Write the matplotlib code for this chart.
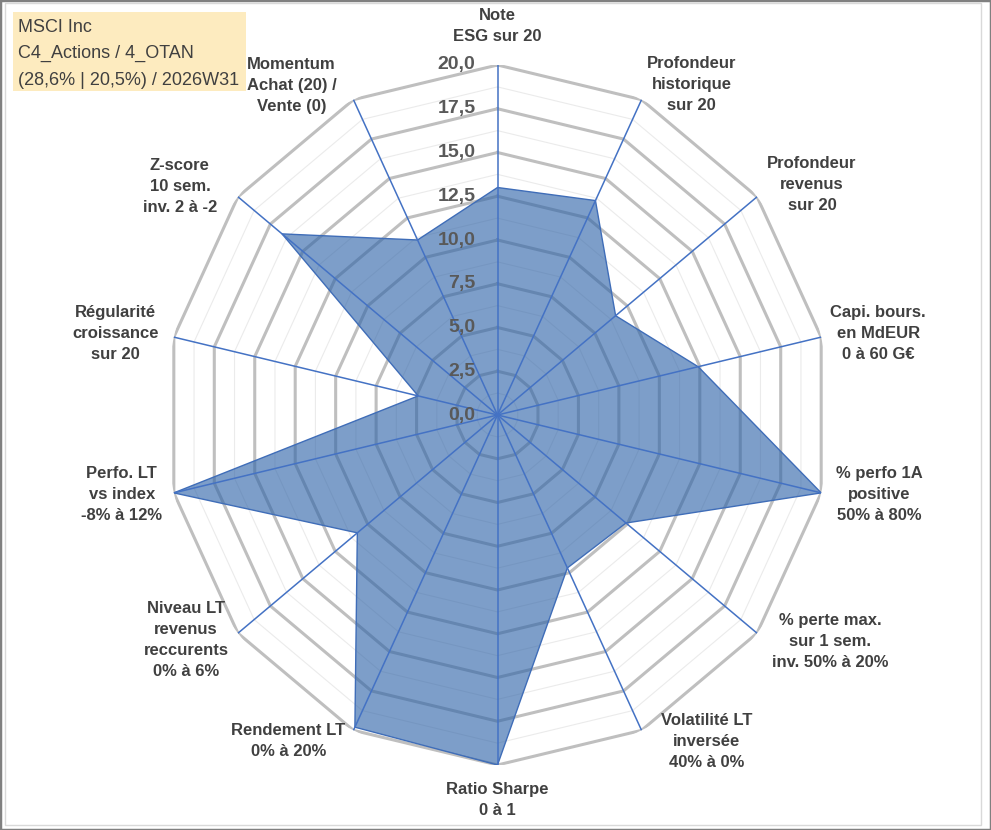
import numpy as np
import matplotlib
matplotlib.use("Agg")
import matplotlib.pyplot as plt
from matplotlib.patches import Rectangle

# ---------------- data ----------------
categories = [
    "Note\nESG sur 20",
    "Profondeur\nhistorique\nsur 20",
    "Profondeur\nrevenus\nsur 20",
    "Capi. bours.\nen MdEUR\n0 à 60 G€",
    "% perfo 1A\npositive\n50% à 80%",
    "% perte max.\nsur 1 sem.\ninv. 50% à 20%",
    "Volatilité LT\ninversée\n40% à 0%",
    "Ratio Sharpe\n0 à 1",
    "Rendement LT\n0% à 20%",
    "Niveau LT\nrevenus\nreccurents\n0% à 6%",
    "Perfo. LT\nvs index\n-8% à 12%",
    "Régularité\ncroissance\nsur 20",
    "Z-score\n10 sem.\ninv. 2 à -2",
    "Momentum\nAchat (20) /\nVente (0)",
]
values = [13.0, 13.6, 9.1, 12.4, 20.0, 9.9, 9.7, 20.0, 19.8, 10.8, 20.0, 4.9, 16.6, 11.1]
r_ticks = [0.0, 2.5, 5.0, 7.5, 10.0, 12.5, 15.0, 17.5, 20.0]
r_minor = [1.25, 3.75, 6.25, 8.75, 11.25, 13.75, 16.25, 18.75]
info_lines = ["MSCI Inc", "C4_Actions / 4_OTAN", "(28,6% | 20,5%) / 2026W31"]

# ---------------- layout / style ----------------
plt.rcParams["font.family"] = ["Liberation Sans", "DejaVu Sans"]
W, H = 991, 830
# label offsets from outer vertex (pixels, x right, y up)
label_offsets = [(0, 39), (50, 15), (55, 12), (57, 4), (58, -2), (73, -8), (65, -11),
                 (0, -35), (-65, -11), (-52, -7), (-52, -2), (-58, 4), (-58, 10), (-62, 14)]

fig = plt.figure(figsize=(W / 100, H / 100), dpi=100)
fig.patch.set_facecolor("white")

cx, cy, rx, ry = 497.5, 415.0, 332.0, 350.0
ax = fig.add_axes([(cx - rx) / W, (H - cy - ry) / H, 2 * rx / W, 2 * ry / H], projection="polar")
ax.set_aspect("auto")
ax.set_theta_zero_location("N")
ax.set_theta_direction(-1)
ax.set_ylim(0, 20)
ax.grid(False)
ax.spines["polar"].set_visible(False)
ax.set_xticks([])
ax.set_yticks([])
ax.patch.set_facecolor("none")

N = len(categories)
theta = np.arange(N) * 2 * np.pi / N
theta_c = np.append(theta, theta[0])

for r in r_minor:
    ax.plot(theta_c, [r] * (N + 1), color="#ebebeb", lw=0.8, zorder=1)
for r in r_ticks[1:]:
    ax.plot(theta_c, [r] * (N + 1), color="#bfbfbf", lw=2.2, zorder=1.5)

vals_c = np.append(values, values[0])
ax.fill(theta_c, vals_c, facecolor=(0.18, 0.39, 0.66, 0.62), edgecolor="#3F6DB8",
        lw=1.0, zorder=3)

for t in theta:
    ax.plot([t, t], [0, 20], color="#4472C4", lw=1.1, zorder=4)

for v in r_ticks:
    ax.annotate(f"{v:.1f}".replace(".", ","), xy=(0, v), xytext=(-22, 0),
                textcoords="offset pixels", ha="right", va="center",
                fontsize=14, fontweight="bold", color="#595959", zorder=6,
                annotation_clip=False)

for t, lab, off in zip(theta, categories, label_offsets):
    ax.annotate(lab, xy=(t, 20), xytext=off, textcoords="offset pixels",
                ha="center", va="center", multialignment="center",
                fontsize=12, fontweight="bold", color="#404040", linespacing=1.5,
                annotation_clip=False, zorder=6)

# borders
fig.patches.append(Rectangle((0, 0), 1, 1, transform=fig.transFigure, fill=False,
                             edgecolor="#808080", lw=2.5, zorder=0))
fig.patches.append(Rectangle((5 / W, (H - 825) / H), 976 / W, 822 / H, transform=fig.transFigure,
                             fill=False, edgecolor="#d9d9d9", lw=1, zorder=0))
# info box
fig.patches.append(Rectangle((13 / W, (H - 91) / H), 233 / W, 79 / H, transform=fig.transFigure,
                             facecolor="#FDEBBF", edgecolor="none", zorder=0))
for i, line in enumerate(info_lines):
    fig.text(18 / W, 1 - (27 + 26.7 * i) / H, line, ha="left", va="center",
             fontsize=13, color="#404040")

fig.savefig("out.png", dpi=100)
